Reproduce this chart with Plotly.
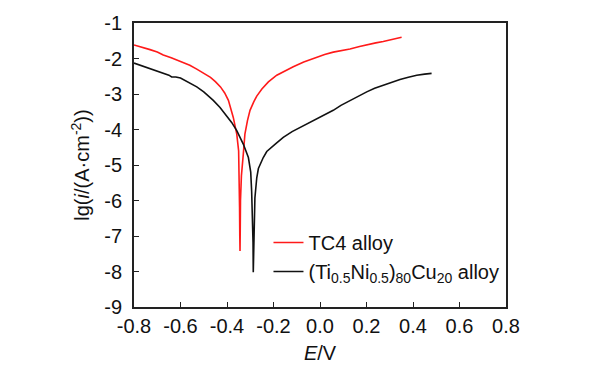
import plotly.graph_objects as go

# TC4 alloy polarization curve
tc4_E = [-0.80, -0.76, -0.731, -0.70, -0.674, -0.64, -0.60, -0.56, -0.53, -0.50, -0.471, -0.45,
         -0.428, -0.41, -0.394, -0.373, -0.358, -0.350, -0.347, -0.346, -0.345, -0.344,
         -0.343, -0.342, -0.338, -0.330, -0.323, -0.312, -0.301, -0.285, -0.272, -0.25,
         -0.222, -0.186, -0.15, -0.115, -0.07, -0.014, 0.02, 0.057, 0.10, 0.129, 0.17,
         0.201, 0.24, 0.272, 0.31, 0.351]
tc4_lgi = [-1.62, -1.69, -1.75, -1.82, -1.90, -1.98, -2.09, -2.19, -2.30, -2.41, -2.53, -2.65,
           -2.80, -2.97, -3.18, -3.66, -4.13, -4.60, -5.30, -6.20, -7.00, -7.42,
           -6.80, -6.00, -5.30, -4.70, -4.13, -3.75, -3.46, -3.22, -3.06, -2.86,
           -2.66, -2.47, -2.34, -2.23, -2.10, -1.96, -1.89, -1.82, -1.77, -1.73, -1.66,
           -1.61, -1.56, -1.52, -1.47, -1.40]

# (Ti0.5Ni0.5)80Cu20 alloy polarization curve
tin_E = [-0.80, -0.76, -0.731, -0.70, -0.674, -0.65, -0.638, -0.62, -0.60, -0.56, -0.53, -0.50,
         -0.459, -0.43, -0.402, -0.38, -0.358, -0.330, -0.308, -0.298, -0.294, -0.290,
         -0.288, -0.287, -0.285, -0.284, -0.280, -0.272, -0.265, -0.244, -0.229, -0.19,
         -0.158, -0.12, -0.084, -0.05, -0.014, 0.02, 0.057, 0.09, 0.129, 0.165, 0.201,
         0.235, 0.272, 0.31, 0.344, 0.38, 0.416, 0.45, 0.480]
tin_lgi = [-2.13, -2.22, -2.30, -2.36, -2.42, -2.47, -2.52, -2.52, -2.55, -2.68, -2.80, -2.94,
           -3.18, -3.38, -3.61, -3.80, -4.03, -4.41, -4.79, -5.20, -5.74, -6.40,
           -7.20, -8.02, -7.00, -6.50, -5.93, -5.36, -5.10, -4.79, -4.62, -4.40,
           -4.22, -4.06, -3.94, -3.82, -3.70, -3.58, -3.46, -3.32, -3.18, -3.05, -2.94,
           -2.84, -2.75, -2.67, -2.59, -2.53, -2.47, -2.44, -2.42]

x_ticks = [-0.8, -0.6, -0.4, -0.2, 0.0, 0.2, 0.4, 0.6, 0.8]
x_tick_labels = ["-0.8", "-0.6", "-0.4", "-0.2", "0.0", "0.2", "0.4", "0.6", "0.8"]
y_ticks = [-1, -2, -3, -4, -5, -6, -7, -8, -9]
y_tick_labels = ["-1", "-2", "-3", "-4", "-5", "-6", "-7", "-8", "-9"]

FONT = "Liberation Sans, Arial, sans-serif"
TXT = "#111111"

fig = go.Figure()
fig.add_trace(go.Scatter(x=tc4_E, y=tc4_lgi, mode="lines", name="TC4 alloy",
                         line=dict(color="#ff1a1a", width=1.6)))
fig.add_trace(go.Scatter(x=tin_E, y=tin_lgi, mode="lines",
                         name="(Ti<sub>0.5</sub>Ni<sub>0.5</sub>)<sub>80</sub>Cu<sub>20</sub> alloy",
                         line=dict(color="#111111", width=1.6)))

axis_common = dict(showgrid=False, zeroline=False, showline=True, linecolor="#222222",
                   linewidth=1.8, mirror=True, ticks="inside", ticklen=5, tickwidth=1.2,
                   tickcolor="#222222", automargin=False,
                   tickfont=dict(family=FONT, size=20, color=TXT))

fig.update_xaxes(range=[-0.8, 0.8], tickvals=x_ticks, ticktext=x_tick_labels,
                 title=dict(text="<i>E</i>/V", font=dict(family=FONT, size=20, color=TXT),
                            standoff=10),
                 **axis_common)
fig.update_yaxes(range=[-9, -1], tickvals=y_ticks, ticktext=y_tick_labels,
                 ticklabelstandoff=6,
                 title=dict(text="lg(<i>i</i>/(A·cm<sup>-2</sup>))",
                            font=dict(family=FONT, size=20, color=TXT), standoff=9),
                 **axis_common)

fig.update_layout(
    width=600, height=372,
    margin=dict(l=126, r=102, t=15, b=73),
    paper_bgcolor="white", plot_bgcolor="white",
    font=dict(family=FONT, color=TXT),
    legend=dict(x=0.3615, y=0.296, xanchor="left", yanchor="top",
                bgcolor="rgba(0,0,0,0)", font=dict(family=FONT, size=20, color=TXT),
                tracegroupgap=0),
    showlegend=True,
)

fig.write_html("out.html")
